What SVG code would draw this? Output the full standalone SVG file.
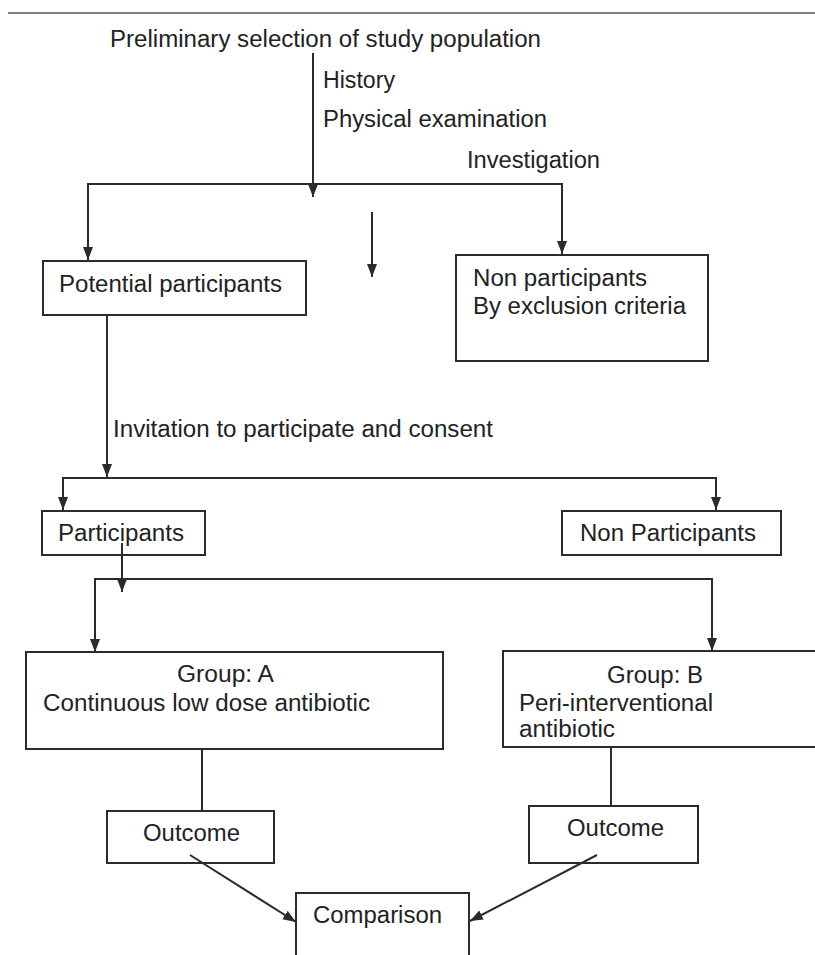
<svg xmlns="http://www.w3.org/2000/svg" width="815" height="955" viewBox="0 0 815 955">
<style>
  .bg{fill:#ffffff}
  .box{fill:#ffffff;stroke:#2b2b2b;stroke-width:2}
  .ln{fill:none;stroke:#2b2b2b;stroke-width:2}
  .t{font-family:"Liberation Sans",Arial,sans-serif;font-size:23px;fill:#222222}
</style>
<defs>
  <marker id="ah" markerUnits="userSpaceOnUse" markerWidth="14" markerHeight="12" refX="13" refY="5" orient="auto">
    <path d="M0,0 L13,5 L0,10 z" fill="#2b2b2b"/>
  </marker>
</defs>
<rect class="bg" x="0" y="0" width="815" height="955"/>
<line x1="8" y1="13" x2="815" y2="13" stroke="#555555" stroke-width="1.5"/>

<g id="labels">
  <text class="t" x="110" y="47" textLength="431" lengthAdjust="spacingAndGlyphs">Preliminary selection of study population</text>
  <text class="t" x="323" y="88" textLength="72" lengthAdjust="spacingAndGlyphs">History</text>
  <text class="t" x="323" y="127" textLength="224" lengthAdjust="spacingAndGlyphs">Physical examination</text>
  <text class="t" x="467" y="168" textLength="133" lengthAdjust="spacingAndGlyphs">Investigation</text>
  <text class="t" x="113" y="437" textLength="380" lengthAdjust="spacingAndGlyphs">Invitation to participate and consent</text>
</g>

<g id="potential">
  <rect class="box" x="43" y="261" width="263" height="54"/>
  <text class="t" x="59" y="292" textLength="223" lengthAdjust="spacingAndGlyphs">Potential participants</text>
</g>
<g id="nonparticipants-excl">
  <rect class="box" x="456" y="255" width="252" height="106"/>
  <text class="t" x="473" y="286" textLength="174" lengthAdjust="spacingAndGlyphs">Non participants</text>
  <text class="t" x="473" y="314" textLength="213" lengthAdjust="spacingAndGlyphs">By exclusion criteria</text>
</g>
<g id="participants">
  <rect class="box" x="42" y="511" width="163" height="44"/>
  <text class="t" x="58" y="541" textLength="126" lengthAdjust="spacingAndGlyphs">Participants</text>
</g>
<g id="nonparticipants">
  <rect class="box" x="562" y="511" width="219" height="44"/>
  <text class="t" x="580" y="541" textLength="176" lengthAdjust="spacingAndGlyphs">Non Participants</text>
</g>
<g id="groupA">
  <rect class="box" x="26" y="652" width="417" height="97"/>
  <text class="t" x="177" y="682" textLength="97" lengthAdjust="spacingAndGlyphs">Group: A</text>
  <text class="t" x="43" y="711" textLength="327" lengthAdjust="spacingAndGlyphs">Continuous low dose antibiotic</text>
</g>
<g id="groupB">
  <rect class="box" x="503" y="651" width="330" height="96"/>
  <text class="t" x="607" y="683" textLength="96" lengthAdjust="spacingAndGlyphs">Group: B</text>
  <text class="t" x="519" y="711" textLength="194" lengthAdjust="spacingAndGlyphs">Peri-interventional</text>
  <text class="t" x="519" y="737" textLength="96" lengthAdjust="spacingAndGlyphs">antibiotic</text>
</g>
<g id="outcomeA">
  <rect class="box" x="107" y="811" width="167" height="52"/>
  <text class="t" x="143" y="841" textLength="97" lengthAdjust="spacingAndGlyphs">Outcome</text>
</g>
<g id="outcomeB">
  <rect class="box" x="529" y="806" width="169" height="57"/>
  <text class="t" x="567" y="836" textLength="97" lengthAdjust="spacingAndGlyphs">Outcome</text>
</g>
<g id="comparison">
  <rect class="box" x="296" y="893" width="173" height="80"/>
  <text class="t" x="313" y="923" textLength="129" lengthAdjust="spacingAndGlyphs">Comparison</text>
</g>

<g id="connectors">
  <line class="ln" x1="313" y1="53" x2="313" y2="197" marker-end="url(#ah)"/>
  <line class="ln" x1="88" y1="184" x2="562" y2="184"/>
  <line class="ln" x1="88" y1="183" x2="88" y2="260" marker-end="url(#ah)"/>
  <line class="ln" x1="562" y1="183" x2="562" y2="254" marker-end="url(#ah)"/>
  <line class="ln" x1="372" y1="212" x2="372" y2="277" marker-end="url(#ah)"/>
  <line class="ln" x1="107" y1="315" x2="107" y2="477" marker-end="url(#ah)"/>
  <line class="ln" x1="63" y1="478" x2="716" y2="478"/>
  <line class="ln" x1="63" y1="477" x2="63" y2="510" marker-end="url(#ah)"/>
  <line class="ln" x1="716" y1="477" x2="716" y2="510" marker-end="url(#ah)"/>
  <line class="ln" x1="122" y1="543" x2="122" y2="592" marker-end="url(#ah)"/>
  <line class="ln" x1="95" y1="579" x2="712" y2="579"/>
  <line class="ln" x1="95" y1="578" x2="95" y2="652" marker-end="url(#ah)"/>
  <line class="ln" x1="712" y1="578" x2="712" y2="651" marker-end="url(#ah)"/>
  <line class="ln" x1="202" y1="749" x2="202" y2="811"/>
  <line class="ln" x1="611" y1="747" x2="611" y2="806"/>
  <line class="ln" x1="190" y1="855" x2="296" y2="922" marker-end="url(#ah)"/>
  <line class="ln" x1="597" y1="855" x2="470" y2="921" marker-end="url(#ah)"/>
</g>
</svg>
